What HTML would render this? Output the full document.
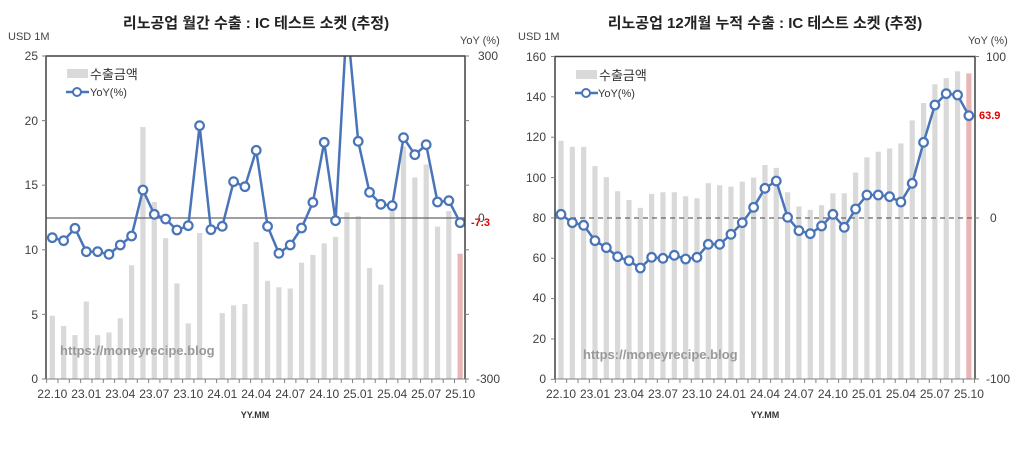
<!DOCTYPE html>
<html><head><meta charset="utf-8"><style>
body{margin:0;background:#fff;width:1024px;height:445px;overflow:hidden}
svg{font-family:"Liberation Sans","Noto Sans CJK KR",sans-serif}
</style></head><body>
<svg id="s" width="1024" height="445" xmlns="http://www.w3.org/2000/svg">
<rect width="1024" height="445" fill="#fff"/>
<defs>
<clipPath id="c1"><rect x="46" y="56" width="419" height="323"/></clipPath>
<clipPath id="c2"><rect x="555" y="56" width="421" height="323"/></clipPath>
</defs>
<g id="g1" clip-path="url(#c1)"></g>
<g id="g2" clip-path="url(#c2)"></g>
<path d="M46 379 V56 H465 V379" fill="none" stroke="#404040" stroke-width="1.5"/>
<line x1="46" y1="379" x2="465" y2="379" stroke="#808080"/>
<path d="M555 379 V56.5 H975 V379" fill="none" stroke="#404040" stroke-width="1.5"/>
<line x1="555" y1="379" x2="975" y2="379" stroke="#808080"/>
<g id="ticks" stroke="#808080"></g>
<g font-weight="bold" fill="#222" font-size="15" text-anchor="middle">
<text x="256" y="28">리노공업 월간 수출 : IC 테스트 소켓 (추정)</text>
<text x="765" y="28">리노공업 12개월 누적 수출 : IC 테스트 소켓 (추정)</text>
</g>
<g font-size="11" fill="#444">
<text x="8" y="40">USD 1M</text><text x="460" y="44">YoY (%)</text>
<text x="518" y="40">USD 1M</text><text x="968" y="44">YoY (%)</text>
</g>
<g font-size="12" fill="#404040" text-anchor="end">
<text x="38" y="60">25</text><text x="38" y="125">20</text><text x="38" y="189">15</text><text x="38" y="254">10</text><text x="38" y="319">5</text><text x="38" y="383">0</text>
<text x="546" y="61">160</text><text x="546" y="101">140</text><text x="546" y="141">120</text><text x="546" y="182">100</text><text x="546" y="222">80</text><text x="546" y="262">60</text><text x="546" y="302">40</text><text x="546" y="343">20</text><text x="546" y="383">0</text>
</g>
<g font-size="12" fill="#404040">
<text x="478" y="60">300</text><text x="478" y="222">0</text><text x="476" y="383">-300</text>
<text x="986" y="61">100</text><text x="990" y="222">0</text><text x="986" y="383">-100</text>
</g>
<text x="471" y="226" font-size="11" font-weight="bold" fill="#e00000">-7.3</text>
<text x="979" y="119" font-size="11" font-weight="bold" fill="#e00000">63.9</text>
<g id="xl" font-size="12" fill="#404040" text-anchor="middle"></g>
<g font-size="9" font-weight="bold" fill="#333" text-anchor="middle">
<text x="255" y="418">YY.MM</text><text x="765" y="418">YY.MM</text>
</g>
<rect x="67" y="69" width="21" height="9" fill="#d9d9d9"/>
<text x="90" y="79" font-size="13" fill="#333">수출금액</text>
<line x1="66" y1="92" x2="89" y2="92" stroke="#4a74b8" stroke-width="2.5"/>
<circle cx="77" cy="92" r="4" fill="#fff" stroke="#4a74b8" stroke-width="2"/>
<text x="90" y="96" font-size="11" fill="#333">YoY(%)</text>
<rect x="576" y="70" width="21" height="9" fill="#d9d9d9"/>
<text x="599" y="80" font-size="13" fill="#333">수출금액</text>
<line x1="575" y1="93" x2="598" y2="93" stroke="#4a74b8" stroke-width="2.5"/>
<circle cx="586" cy="93" r="4" fill="#fff" stroke="#4a74b8" stroke-width="2"/>
<text x="598" y="97" font-size="11" fill="#333">YoY(%)</text>
<g font-size="13" font-weight="bold" fill="#999">
<text x="60" y="355">https://moneyrecipe.blog</text>
<text x="583" y="359">https://moneyrecipe.blog</text>
</g>
</svg>
<script>
var NS="http://www.w3.org/2000/svg";
function el(p,t,a){var e=document.createElementNS(NS,t);for(var k in a)e.setAttribute(k,a[k]);p.appendChild(e);return e;}
var b1=[4.9,4.1,3.4,6.0,3.4,3.6,4.7,8.8,19.5,13.7,10.9,7.4,4.3,11.3,0,5.1,5.7,5.8,10.6,7.6,7.1,7.0,9.0,9.6,10.5,11.0,12.9,12.6,8.6,7.3,13.0,18.0,15.6,16.6,11.8,13.0,9.7];
var y1=[713,722,685,755,755,763,735,708,570,643,657,690,677,377,689,679,545,560,451,679,760,735,684,607,427,662,60,424,577,613,617,413,464,434,606,602,668];
var b2=[118,115,115,105.5,100,93,88.7,84.8,91.7,92.5,92.5,90.5,89.5,97,96,95.3,97.8,99.8,106,104.6,92.5,85.5,83.8,86.1,92,92,102.3,109.8,112.6,114.2,116.7,128.1,136.7,146,149,152.4,151.4];
var y2=[643,668,676,722,743,770,782,804,772,775,766,777,772,733,733,703,668,622,565,543,652,692,701,678,643,682,627,585,585,590,606,550,427,315,281,285,347];
var labs=["22.10","23.01","23.04","23.07","23.10","24.01","24.04","24.07","24.10","25.01","25.04","25.07","25.10"];
function draw(g,x0,bars,ys,vmax,dash){
 var G=document.getElementById(g),sp=11.33;
 bars.forEach(function(v,i){var x=x0+i*sp,h=v/vmax*323;
  if(h>0)el(G,"rect",{x:x-2.6,y:379-h,width:5.2,height:h,fill:i==36?"#e8b6b6":"#d9d9d9"});});
 el(G,"line",{x1:x0-8,y1:218,x2:x0+420,y2:218,stroke:"#666","stroke-width":1.3,"stroke-dasharray":dash?"5,4":"none"});
 var pts=ys.map(function(y,i){return (x0+i*sp).toFixed(1)+","+(y/3).toFixed(1);});
 el(G,"polyline",{points:pts.join(" "),fill:"none",stroke:"#4a74b8","stroke-width":2.5});
 ys.forEach(function(y,i){if(y>100)el(G,"circle",{cx:x0+i*sp,cy:y/3,r:4.3,fill:"#fff",stroke:"#4a74b8","stroke-width":2.2});});
 var X=document.getElementById("xl"),T=document.getElementById("ticks");
 labs.forEach(function(l,k){var t=el(X,"text",{x:x0+k*3*sp,y:398});t.textContent=l;});
 for(var i=0;i<=37;i++){var x=x0-sp/2+i*sp;el(T,"line",{x1:x,y1:379,x2:x,y2:383});}
}
draw("g1",52.3,b1,y1,25,false);
draw("g2",561,b2,y2,160,true);
var T=document.getElementById("ticks");
[56,120.6,185.2,249.8,314.4,379].forEach(function(y){el(T,"line",{x1:42,y1:y,x2:46,y2:y});el(T,"line",{x1:465,y1:y,x2:469,y2:y});});
for(var i=0;i<=8;i++){var y=56.5+i*40.35;el(T,"line",{x1:551,y1:y,x2:555,y2:y});}
[56.5,218,379].forEach(function(y){el(T,"line",{x1:975,y1:y,x2:979,y2:y});});
</script>
</body></html>
